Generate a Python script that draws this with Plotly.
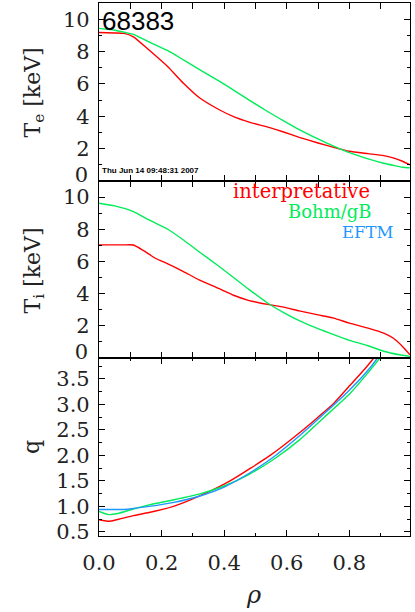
import plotly.graph_objects as go

# ---------------- data ----------------
rho_te = [0.0, 0.05, 0.08, 0.11, 0.16, 0.22, 0.27, 0.32, 0.38, 0.43, 0.48, 0.54,
          0.59, 0.64, 0.70, 0.75, 0.80, 0.86, 0.91, 0.94, 0.97, 0.994]
te_interp = [9.18, 9.15, 9.12, 8.91, 8.09, 7.06, 6.04, 5.16, 4.45, 3.98, 3.64, 3.33,
             3.03, 2.70, 2.35, 2.08, 1.84, 1.69, 1.57, 1.43, 1.22, 1.00]
te_bohm = [9.43, 9.32, 9.20, 9.06, 8.60, 8.05, 7.48, 6.90, 6.22, 5.62, 5.00, 4.28,
           3.72, 3.18, 2.60, 2.15, 1.75, 1.37, 1.10, 0.97, 0.85, 0.81]

rho_ti_i = [0.0, 0.05, 0.08, 0.11, 0.14, 0.18, 0.22, 0.27, 0.32, 0.38, 0.43, 0.48,
            0.54, 0.59, 0.64, 0.70, 0.75, 0.80, 0.86, 0.91, 0.94, 0.97, 0.994]
ti_interp = [7.03, 7.03, 7.03, 7.02, 6.70, 6.20, 5.85, 5.37, 4.86, 4.34, 3.90, 3.57,
             3.33, 3.16, 2.93, 2.68, 2.48, 2.17, 1.86, 1.55, 1.24, 0.72, 0.20]
rho_ti_b = [0.0, 0.05, 0.11, 0.16, 0.22, 0.27, 0.32, 0.38, 0.43, 0.48, 0.54, 0.59,
            0.64, 0.70, 0.75, 0.80, 0.86, 0.91, 0.96, 0.994]
ti_bohm = [9.62, 9.45, 9.10, 8.58, 8.00, 7.33, 6.60, 5.75, 5.00, 4.25, 3.40, 2.82,
           2.32, 1.82, 1.45, 1.10, 0.76, 0.42, 0.20, 0.10]

rho_q_i = [0.0, 0.035, 0.07, 0.11, 0.16, 0.238, 0.32, 0.419, 0.547, 0.64, 0.70,
           0.75, 0.80, 0.85, 0.878, 0.92]
q_interp = [0.74, 0.71, 0.76, 0.82, 0.88, 1.00, 1.20, 1.50, 2.00, 2.44, 2.75,
            3.02, 3.36, 3.70, 3.91, 4.30]
rho_q_b = [0.0, 0.03, 0.06, 0.11, 0.16, 0.24, 0.32, 0.40, 0.48, 0.56, 0.64, 0.72,
           0.80, 0.85, 0.90, 0.93]
q_bohm = [0.90, 0.84, 0.86, 0.95, 1.03, 1.13, 1.24, 1.40, 1.63, 1.93, 2.30, 2.75,
          3.20, 3.55, 3.93, 4.20]
rho_q_e = [0.0, 0.04, 0.08, 0.16, 0.24, 0.32, 0.40, 0.48, 0.56, 0.64, 0.72, 0.80,
           0.85, 0.89, 0.93]
q_eftm = [0.94, 0.94, 0.94, 1.00, 1.08, 1.20, 1.38, 1.65, 1.98, 2.38, 2.82, 3.28,
          3.60, 3.91, 4.30]

x_ticks = [0.0, 0.2, 0.4, 0.6, 0.8]
x_ticktext = ["0.0", "0.2", "0.4", "0.6", "0.8"]
T_ticks = [2, 4, 6, 8, 10]
T_zero = [0]
q_ticks = [0.5, 1.0, 1.5, 2.0, 2.5, 3.0, 3.5]
q_ticktext = ["0.5", "1.0", "1.5", "2.0", "2.5", "3.0", "3.5"]

shot = "68383"
stamp = "Thu Jun 14 09:48:31 2007"
legend_names = ["interpretative", "Bohm/gB", "EFTM"]

RED, GREEN, BLUE = "#ff0000", "#00ec5a", "#1e96ff"

# ---------------- layout helpers ----------------
W, H = 415, 612
L, R, T, B = 99, 5, 3, 76
pw, ph = W - L - R, H - T - B


def px(x):
    return (x - L) / pw


def py(y):
    return (H - B - y) / ph


fig = go.Figure()
lw = 1.4


def line(c):
    return dict(color=c, width=lw, shape="spline", smoothing=0.5)


fig.add_trace(go.Scatter(x=rho_te, y=te_interp, mode="lines", line=line(RED), xaxis="x3", yaxis="y3"))
fig.add_trace(go.Scatter(x=rho_te, y=te_bohm, mode="lines", line=line(GREEN), xaxis="x3", yaxis="y3"))
fig.add_trace(go.Scatter(x=rho_ti_i, y=ti_interp, mode="lines", line=line(RED), xaxis="x2", yaxis="y2"))
fig.add_trace(go.Scatter(x=rho_ti_b, y=ti_bohm, mode="lines", line=line(GREEN), xaxis="x2", yaxis="y2"))
fig.add_trace(go.Scatter(x=rho_q_i, y=q_interp, mode="lines", line=line(RED), xaxis="x", yaxis="y"))
fig.add_trace(go.Scatter(x=rho_q_b, y=q_bohm, mode="lines", line=line(GREEN), xaxis="x", yaxis="y"))
fig.add_trace(go.Scatter(x=rho_q_e, y=q_eftm, mode="lines", line=line(BLUE), xaxis="x", yaxis="y"))
# empty traces so the overlay axes carrying the "0" labels are drawn
fig.add_trace(go.Scatter(x=[], y=[], mode="lines", xaxis="x2", yaxis="y4", hoverinfo="skip"))
fig.add_trace(go.Scatter(x=[], y=[], mode="lines", xaxis="x3", yaxis="y5", hoverinfo="skip"))

tickfont = dict(family="DejaVu Serif", size=21, color="#222")
ax_common = dict(showline=True, linecolor="black", linewidth=1.2, mirror="allticks",
                 ticks="inside", ticklen=6, tickwidth=1, tickcolor="black",
                 showgrid=False, zeroline=False, tickfont=tickfont)
xr = [0, 0.994]
xminor = dict(ticks="inside", ticklen=3, tickwidth=1, tickcolor="black", dtick=0.1, tick0=0)
yminorT = dict(ticks="inside", ticklen=3, tickwidth=1, tickcolor="black", dtick=1, tick0=0)
zero_ax = dict(showline=False, ticks="", showgrid=False, zeroline=False, tickfont=tickfont,
               range=[0, 11], tickvals=T_zero, ticktext=["0"], ticklabelshift=-6,
               ticklabelstandoff=10, side="left", showticklabels=True)

fig.update_layout(
    width=W, height=H, margin=dict(l=L, r=R, t=T, b=B),
    paper_bgcolor="white", plot_bgcolor="white", showlegend=False,
    xaxis=dict(domain=[0, 1], anchor="y", range=xr, tickvals=x_ticks, ticktext=x_ticktext,
               minor=xminor, ticklabelstandoff=8, **ax_common),
    xaxis2=dict(domain=[0, 1], anchor="y2", range=xr, tickvals=x_ticks, showticklabels=False,
                minor=xminor, matches="x", **ax_common),
    xaxis3=dict(domain=[0, 1], anchor="y3", range=xr, tickvals=x_ticks, showticklabels=False,
                minor=xminor, matches="x", **ax_common),
    yaxis=dict(domain=[0, py(358)], anchor="x", range=[0.42, 3.91], tickvals=q_ticks,
               ticktext=q_ticktext, ticklabelstandoff=4,
               minor=dict(ticks="inside", ticklen=3, tickwidth=1, tickcolor="black", dtick=0.25, tick0=0),
               **ax_common),
    yaxis2=dict(domain=[py(358), py(181)], anchor="x2", range=[0, 11], tickvals=T_ticks,
                ticklabelstandoff=4, minor=yminorT, **ax_common),
    yaxis3=dict(domain=[py(181), 1], anchor="x3", range=[0, 11], tickvals=T_ticks,
                ticklabelstandoff=4, minor=yminorT, **ax_common),
    yaxis4=dict(overlaying="y2", anchor="x2", **zero_ax),
    yaxis5=dict(overlaying="y3", anchor="x3", **zero_ax),
)

serif = "DejaVu Serif"
ann = [
    dict(text=shot, x=px(101), y=py(5), xanchor="left", yanchor="top",
         font=dict(family="Liberation Sans", size=26, color="black")),
    dict(text=stamp, x=px(101), y=py(170.5), xanchor="left", yanchor="middle",
         font=dict(family="Liberation Sans", size=8, color="black", weight="bold")),
    dict(text="T<sub>e</sub> [keV]", x=px(33.5), y=py(93), textangle=-90,
         xanchor="center", yanchor="middle",
         font=dict(family=serif, size=22, color="#222")),
    dict(text="T<sub>i</sub> [keV]", x=px(33.5), y=py(271), textangle=-90,
         xanchor="center", yanchor="middle",
         font=dict(family=serif, size=22, color="#222")),
    dict(text="q", x=px(31), y=py(447), textangle=-90,
         xanchor="center", yanchor="middle",
         font=dict(family=serif, size=22, color="#222")),
    dict(text="ρ", x=px(253), y=py(595), xanchor="center", yanchor="middle",
         font=dict(family=serif, size=24, color="#222", style="italic")),
    dict(text=legend_names[0], x=px(232), y=py(191.5), xanchor="left", yanchor="middle",
         font=dict(family=serif, size=19.5, color=RED)),
    dict(text=legend_names[1], x=px(287), y=py(211.5), xanchor="left", yanchor="middle",
         font=dict(family=serif, size=18, color=GREEN)),
    dict(text=legend_names[2], x=px(341), y=py(232.5), xanchor="left", yanchor="middle",
         font=dict(family=serif, size=16.5, color=BLUE)),
]
for a in ann:
    a.update(xref="paper", yref="paper", showarrow=False, borderpad=0)
fig.update_layout(annotations=ann)

fig.write_html("out.html")
